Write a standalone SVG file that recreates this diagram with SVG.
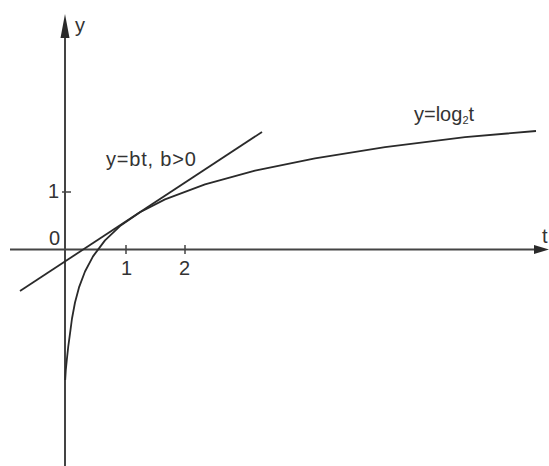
<svg xmlns="http://www.w3.org/2000/svg" width="549" height="466" viewBox="0 0 549 466">
<style>
.ax{stroke:#444;stroke-width:2;fill:none}
.cv{stroke:#2a2a2a;stroke-width:1.8;fill:none;stroke-linejoin:round}
.tk{stroke:#444;stroke-width:1.5}
text{font-family:"Liberation Sans",Arial,sans-serif;font-size:20px;fill:#333}
.ah{fill:#2a2a2a}
</style>
<rect width="549" height="466" fill="#fff"/>
<g id="axes">
<line class="ax" x1="65" y1="466" x2="65" y2="30"/>
<polygon class="ah" points="65,14 60.5,38 69.5,38"/>
<line class="ax" x1="10" y1="249.5" x2="538" y2="249.5"/>
<polygon class="ah" points="549,249.5 534,245 534,254"/>
<line class="tk" x1="62" y1="192" x2="71" y2="192"/>
<line class="tk" x1="126" y1="245" x2="126" y2="254"/>
<line class="tk" x1="185" y1="245" x2="185" y2="254"/>
</g>
<g id="labels">
<text x="75" y="32">y</text>
<text x="542" y="243">t</text>
<text x="48" y="198">1</text>
<text x="49" y="245">0</text>
<text x="121" y="275">1</text>
<text x="179" y="275">2</text>
<text x="106" y="166" letter-spacing="0.8">y=bt, b&gt;0</text>
<text x="414" y="121">y=log<tspan font-size="11" dy="3">2</tspan><tspan dy="-3">t</tspan></text>
</g>
<g id="curves">
<path id="log" class="cv" d="M65.2,380 L65.8,370 L66.8,360 L68.2,347 L70,333.6 L72,318.5 L75,302.5 L79,287.4 L85,271.5 L93,256.4 L105,240.4 L120,226.1 L140,212.2 L165,199.4 L205,184.3 L255,170.6 L315,158.3 L385,147.2 L465,137.2 L536,131"/>
<line id="tangent" class="cv" x1="20" y1="291" x2="262" y2="132"/>
</g>
</svg>
